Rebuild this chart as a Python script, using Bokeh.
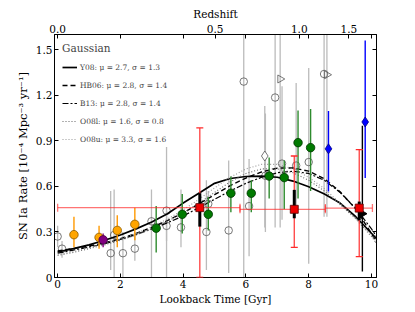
from bokeh.plotting import figure
from bokeh.models import (Legend, LegendItem, LinearAxis, FixedTicker, Whisker,
                          ColumnDataSource, TeeHead, Range1d)
from bokeh.embed import file_html
from bokeh.resources import INLINE

FONT = "DejaVu Serif"

# ---- model curves (lookback time [Gyr] vs rate) ----
curve_t = [0, 0.5, 1, 1.5, 2, 2.5, 3, 3.5, 4, 4.5, 5, 5.5, 6, 6.5, 7, 7.5, 8, 8.5, 9, 9.5, 10, 10.16]
y08 = [0.168, 0.19, 0.215, 0.245, 0.28, 0.32, 0.365, 0.42, 0.49, 0.555, 0.62, 0.652, 0.665, 0.668, 0.66, 0.635, 0.598, 0.55, 0.49, 0.40, 0.29, 0.255]
hb06 = [0.175, 0.19, 0.207, 0.228, 0.255, 0.29, 0.33, 0.375, 0.425, 0.485, 0.545, 0.605, 0.655, 0.695, 0.72, 0.722, 0.70, 0.65, 0.565, 0.45, 0.29, 0.23]
b13 = [0.16, 0.18, 0.20, 0.222, 0.25, 0.283, 0.32, 0.36, 0.405, 0.46, 0.515, 0.57, 0.62, 0.66, 0.69, 0.70, 0.685, 0.64, 0.56, 0.455, 0.32, 0.27]
o08l = [0.145, 0.165, 0.19, 0.215, 0.245, 0.28, 0.32, 0.37, 0.425, 0.49, 0.56, 0.63, 0.685, 0.715, 0.715, 0.69, 0.64, 0.57, 0.48, 0.385, 0.27, 0.225]
o08u = [0.15, 0.17, 0.195, 0.222, 0.255, 0.29, 0.335, 0.385, 0.445, 0.515, 0.59, 0.66, 0.715, 0.745, 0.745, 0.715, 0.66, 0.585, 0.49, 0.39, 0.28, 0.235]

# ---- gray literature points ----
gray_circ_t = [0.00, 0.14, 1.69, 1.80, 2.08, 2.46, 2.99, 3.47, 3.47, 3.93, 4.74, 4.80, 5.45, 5.93, 6.10, 6.62, 6.93, 7.15, 7.60, 8.00, 8.49]
gray_circ_rate = [0.27, 0.19, 0.16, 0.28, 0.16, 0.19, 0.37, 0.44, 0.34, 0.33, 0.30, 0.485, 0.31, 1.29, 0.47, 0.67, 1.185, 0.75, 0.737, 0.76, 1.34]
gray_circ_lo = [0.20, 0.13, 0.05, 0.00, 0.00, 0.11, 0.00, 0.00, 0.24, 0.20, 0.05, 0.40, 0.03, 0.00, 0.14, 0.30, 0.33, 0.38, 0.45, 0.09, 0.40]
gray_circ_hi = [0.34, 0.24, 0.57, 0.58, 0.30, 0.30, 0.58, 0.86, 0.44, 0.58, 0.64, 0.57, 0.77, 1.70, 0.78, 1.08, 1.70, 1.26, 1.28, 1.38, 1.70]

gray_dia_t = [6.60]
gray_dia_rate = [0.80]
gray_dia_lo = [0.33]
gray_dia_hi = [1.13]

gray_tri_t = [7.09, 8.58]
gray_tri_rate = [1.307, 1.335]
gray_tri_lo = [0.33, 0.40]
gray_tri_hi = [1.70, 1.70]

# ---- coloured points ----
orange_t = [0.52, 1.32, 1.90, 2.46]
orange_rate = [0.282, 0.264, 0.31, 0.35]
orange_lo = [0.20, 0.19, 0.20, 0.245]
orange_hi = [0.40, 0.34, 0.41, 0.46]

purple_t = [1.45]
purple_rate = [0.248]
purple_lo = [0.20]
purple_hi = [0.29]

green_t = [3.14, 3.97, 4.80, 5.52, 6.17, 6.74, 7.22, 7.66, 8.06]
green_rate = [0.325, 0.416, 0.416, 0.555, 0.555, 0.668, 0.658, 0.888, 0.855]
green_lo = [0.164, 0.29, 0.31, 0.43, 0.43, 0.52, 0.45, 0.52, 0.57]
green_hi = [0.47, 0.55, 0.53, 0.665, 0.64, 0.79, 0.77, 1.10, 1.11]

blue_t = [8.63, 9.80]
blue_rate = [0.847, 1.024]
blue_lo = [0.566, 0.655]
blue_hi = [1.097, 1.56]

red_t = [4.53, 7.54, 9.61]
red_rate = [0.46, 0.449, 0.457]
red_t_lo = [0.0, 5.81, 8.53]
red_t_hi = [5.81, 8.53, 10.03]
red_lo = [0.0, 0.198, 0.137]
red_hi = [0.985, 0.80, 0.842]
red_sys_lo = [0.335, 0.39, 0.378]
red_sys_hi = [0.555, 0.577, 0.50]

black_t = [9.71]
black_rate = [0.42]
black_lo = [0.04]
black_hi = [1.0]

# ---- axes ticks ----
x_ticks = [0, 2, 4, 6, 8, 10]
y_ticks = [0, 0.3, 0.6, 0.9, 1.2, 1.5]
y_tick_labels = ["0", "0.3", "0.6", "0.9", "1.2", "1.5"]
z_tick_labels = ["0.0", "0.5", "1.0", "1.5"]
z_tick_lookback = [0.0, 5.02, 7.70, 9.28]

p = figure(frame_width=322, frame_height=243,
           x_range=Range1d(-0.1, 10.16), y_range=Range1d(0, 1.6),
           output_backend="svg", toolbar_location=None,
           min_border_left=54, min_border_right=31, min_border_top=34, min_border_bottom=27)
p.grid.visible = False
p.outline_line_color = "black"
p.outline_line_width = 1
p.background_fill_color = "white"
p.border_fill_color = "white"


def style_axis(ax):
    ax.major_tick_in = 4
    ax.major_tick_out = 0
    ax.minor_tick_in = 0
    ax.minor_tick_out = 0
    ax.axis_line_color = "black"
    ax.major_label_text_font = FONT
    ax.major_label_text_font_size = "10.5px"
    ax.major_label_text_color = "black"
    ax.axis_label_text_font = FONT
    ax.axis_label_text_font_size = "10.5px"
    ax.axis_label_text_font_style = "normal"
    ax.axis_label_text_color = "black"
    ax.major_label_standoff = 2
    ax.axis_label_standoff = 2


xa = p.xaxis[0]
xa.ticker = FixedTicker(ticks=x_ticks)
xa.axis_label = "Lookback Time [Gyr]"
style_axis(xa)

ya = p.yaxis[0]
ya.ticker = FixedTicker(ticks=y_ticks)
ya.major_label_overrides = {t: l for t, l in zip(y_ticks, y_tick_labels)}
ya.axis_label = "SN Ia Rate [10⁻⁴ Mpc⁻³ yr⁻¹]"
style_axis(ya)
ya.axis_label_text_font_size = "11.5px"
ya.axis_label_standoff = 3

top = LinearAxis(axis_label="Redshift",
                 ticker=FixedTicker(ticks=z_tick_lookback, minor_ticks=x_ticks[1:]))
top.major_label_overrides = {t: l for t, l in zip(z_tick_lookback, z_tick_labels)}
style_axis(top)
top.minor_tick_in = 4
p.add_layout(top, "above")

right = LinearAxis(ticker=FixedTicker(ticks=y_ticks))
style_axis(right)
right.major_label_text_font_size = "0px"
right.major_label_text_alpha = 0
p.add_layout(right, "right")

GRAY_ERR = "#bbbbbb"
GRAY_MK = "#555555"

# gray error bars and markers
p.segment(x0=gray_circ_t, y0=gray_circ_lo, x1=gray_circ_t, y1=gray_circ_hi, line_color=GRAY_ERR, line_width=1.3)
p.segment(x0=gray_dia_t, y0=gray_dia_lo, x1=gray_dia_t, y1=gray_dia_hi, line_color=GRAY_ERR, line_width=1.3)
p.segment(x0=gray_tri_t, y0=gray_tri_lo, x1=gray_tri_t, y1=gray_tri_hi, line_color=GRAY_ERR, line_width=1.3)
p.scatter(gray_circ_t, gray_circ_rate, marker="circle", size=7.5, line_color=GRAY_MK, fill_color="white", fill_alpha=0.0, line_width=0.8)
p.scatter(gray_dia_t, gray_dia_rate, marker="diamond", size=10, line_color=GRAY_MK, fill_color="white", line_width=0.8)
p.scatter(gray_tri_t, gray_tri_rate, marker="triangle", angle=-1.5708, size=8, line_color=GRAY_MK, fill_color="white", fill_alpha=0.0, line_width=0.8)

# model curves
r_y08 = p.line(curve_t, y08, line_color="black", line_width=1.7)
r_hb06 = p.line(curve_t, hb06, line_color="black", line_width=1.4, line_dash="5 3")
r_b13 = p.line(curve_t, b13, line_color="black", line_width=1.2, line_dash="6 2 2 2")
r_o08l = p.line(curve_t, o08l, line_color="#666666", line_width=1.1, line_dash="1 2")
r_o08u = p.line(curve_t, o08u, line_color="#999999", line_width=1.1, line_dash="1 2")

# coloured error bars
p.segment(x0=orange_t, y0=orange_lo, x1=orange_t, y1=orange_hi, line_color="#ff9900", line_width=1.4)
p.segment(x0=purple_t, y0=purple_lo, x1=purple_t, y1=purple_hi, line_color="#800080", line_width=1.4)
p.segment(x0=green_t, y0=green_lo, x1=green_t, y1=green_hi, line_color="#2e8b2e", line_width=1.4)
p.segment(x0=blue_t, y0=blue_lo, x1=blue_t, y1=blue_hi, line_color="#0000ff", line_width=1.4)
p.segment(x0=black_t, y0=black_lo, x1=black_t, y1=black_hi, line_color="black", line_width=1.4)

# coloured markers
p.scatter(orange_t, orange_rate, marker="circle", size=8.5, fill_color="#ffa500", line_color="#8a5a00", line_width=0.8)
p.scatter(purple_t, purple_rate, marker="circle", size=8.5, fill_color="#800080", line_color="#400040", line_width=0.8)
p.scatter(green_t, green_rate, marker="circle", size=8.5, fill_color="#007a00", line_color="#003300", line_width=0.8)
p.scatter(blue_t, blue_rate, marker="diamond", size=10, fill_color="#0000ff", line_color="#000080", line_width=0.8)
p.scatter(black_t, black_rate, marker="triangle", angle=-1.5708, size=8, fill_color="black", line_color="black")

# red points with caps
red_src = ColumnDataSource(dict(t=red_t, rate=red_rate, t_lo=red_t_lo, t_hi=red_t_hi,
                                lo=red_lo, hi=red_hi))
RED = "#ff2a2a"
wv = Whisker(source=red_src, base="t", lower="lo", upper="hi", dimension="height",
             line_color=RED, line_width=1.3, line_alpha=0.9,
             lower_head=TeeHead(size=7, line_color=RED, line_width=1.3),
             upper_head=TeeHead(size=7, line_color=RED, line_width=1.3), level="annotation")
wh = Whisker(source=red_src, base="rate", lower="t_lo", upper="t_hi", dimension="width",
             line_color=RED, line_width=1.3, line_alpha=0.65,
             lower_head=TeeHead(size=8, line_color=RED, line_width=1.3, line_alpha=0.65),
             upper_head=TeeHead(size=8, line_color=RED, line_width=1.3, line_alpha=0.65), level="annotation")
p.add_layout(wv)
p.add_layout(wh)
p.segment(x0=red_t, y0=red_sys_lo, x1=red_t, y1=red_sys_hi, line_color="black", line_width=3, level="overlay")
p.scatter(red_t, red_rate, marker="square", size=8, fill_color="#ee0000", line_color="#550000", line_width=0.8, level="overlay")

legend = Legend(items=[
    LegendItem(label="Y08: μ = 2.7, σ = 1.3", renderers=[r_y08]),
    LegendItem(label="HB06: μ = 2.8, σ = 1.4", renderers=[r_hb06]),
    LegendItem(label="B13: μ = 2.8, σ = 1.4", renderers=[r_b13]),
    LegendItem(label="O08l: μ = 1.6, σ = 0.8", renderers=[r_o08l]),
    LegendItem(label="O08u: μ = 3.3, σ = 1.6", renderers=[r_o08u]),
], location="top_left", title="Gaussian")
legend.title_text_font = FONT
legend.title_text_font_size = "10.5px"
legend.title_text_font_style = "normal"
legend.title_standoff = 7
legend.label_text_font = FONT
legend.label_text_font_size = "7.5px"
legend.glyph_width = 15
legend.glyph_height = 12
legend.label_height = 12
legend.label_standoff = 3
legend.spacing = 6
legend.margin = 8
legend.padding = 0
legend.border_line_alpha = 0
legend.background_fill_alpha = 0
p.add_layout(legend)

open("out.html", "w").write(file_html(p, INLINE))
